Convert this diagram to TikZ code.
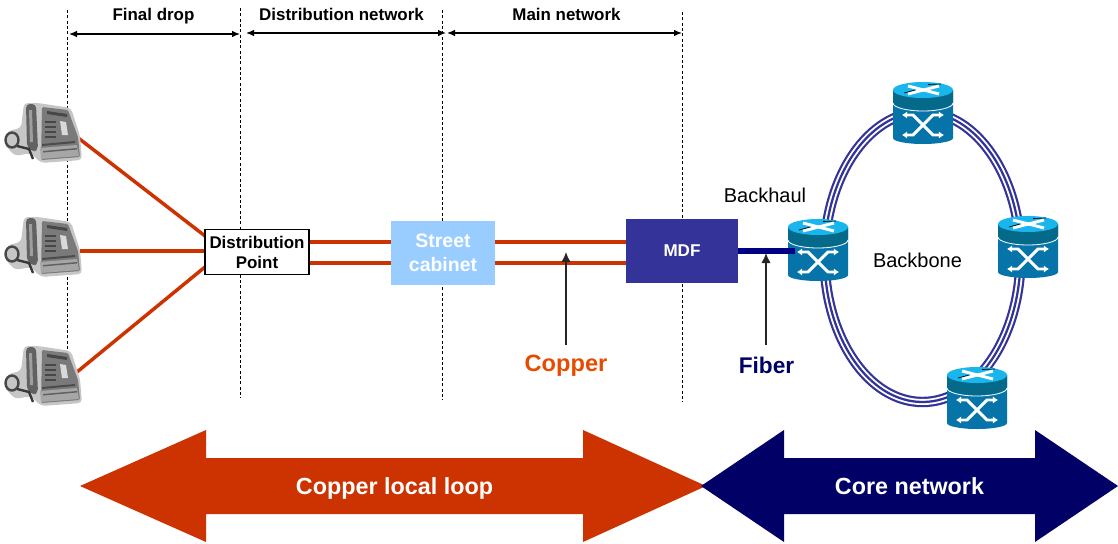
\documentclass[tikz,border=0pt]{standalone}
\usepackage{fontspec}
\setmainfont{Liberation Sans}
\usetikzlibrary{arrows.meta,backgrounds,calc}
\definecolor{copper}{HTML}{CC3300}
\definecolor{coptxt}{HTML}{E64B00}
\definecolor{navyc}{HTML}{000066}
\definecolor{fibc}{HTML}{000085}
\definecolor{mdfc}{HTML}{333399}
\definecolor{cabc}{HTML}{99CCFF}
\definecolor{rbody}{HTML}{0674A8}
\definecolor{rband}{HTML}{056A8A}
\definecolor{rtop}{HTML}{19B6EE}
\tikzset{
 x=0.75pt,y=-0.75pt,
 vline/.style={dash pattern=on 2.2pt off 1.8pt,line width=0.65pt,black},
 span/.style={{Latex[length=6pt,width=5pt]}-{Latex[length=6pt,width=5pt]},line width=0.95pt},
 ptr/.style={-{Latex[length=7.5pt,width=7pt]},line width=1pt,black!85},
 cu/.style={copper,line width=2.6pt},
 hdr/.style={anchor=base,font=\fontsize{12.7}{15}\selectfont\bfseries},
 ws/.style={white,line width=2.2pt,line join=miter,{Latex[length=3.8pt,width=5.5pt]}-{Latex[length=3.8pt,width=5.5pt]}},
 bw/.style={anchor=base,font=\fontsize{17.5}{20}\selectfont\bfseries,white},
 pics/router/.style={code={
  \fill[rbody] (-30,-24) -- (-30,24) arc[x radius=30,y radius=6,start angle=180,end angle=0] -- (30,-24) -- cycle;
  \fill[rband] (-30,-24) -- (-30,-12) arc[x radius=30,y radius=8,start angle=180,end angle=0] -- (30,-24) -- cycle;
  \draw[white,line width=.6pt] (-30,-11) arc[x radius=30,y radius=8,start angle=180,end angle=0];
  \fill[rtop] (0,-24) ellipse[x radius=30,y radius=8];
  \draw[white,line width=2.2pt] (-15,-28) -- (16,-20);
  \draw[white,line width=2.2pt] (-15,-20) -- (16,-28);
  \draw[black,line width=.5pt] (-19,-21) -- (-8,-24) (5,-29.5) -- (18,-30);
  \draw[ws] (-21,1) -- (-10,1) -- (10,21) -- (21,21);
  \draw[ws] (-21,21) -- (-10,21) -- (10,1) -- (21,1);
 }},
 pics/phone/.style={code={
  % soft halo
  \fill[gray!45,rounded corners=3pt] (-17,-29) -- (-3,-29) -- (30,-24) -- (39,4) -- (41,28) -- (0,31) -- (-10,21) -- (-26,24) -- (-37,12) -- (-33,-1) -- (-20,-4) -- cycle;
  % base
  \fill[black!52,rounded corners=1pt] (1,-25) -- (27,-22) -- (37,5) -- (39,25) -- (0,28) -- cycle;
  \fill[black!35] (-1,16) -- (36,13) -- (38,24) -- (0,27) -- cycle;
  % handset
  \fill[black!62,rounded corners=3pt] (-15,-28) -- (-5,-28) -- (-3,18) -- (-8,20) -- (-14,15) -- cycle;
  \fill[black!38] (-12,-22) -- (-9,-22) -- (-8,10) -- (-11,10) -- cycle;
  % cord
  \draw[black!72,line width=1.8pt] (-29,8) circle[x radius=6.5,y radius=7.5];
  \draw[black!78,line width=1.8pt] (-24,14) -- (-12,17) -- (-8,27);
  % display and keys
  \fill[black!72] (6,-21) -- (26,-18) -- (26,-15) -- (6,-18) -- cycle;
  \fill[black!15] (19,-11) -- (25,-10) -- (27,3) -- (21,3) -- cycle;
  \foreach \yy in {-11,-6,-1,4}{\fill[black!72] (4,\yy) rectangle (15,\yy+2);}
  \fill[black!70] (1,12) -- (34,9) -- (34,11) -- (1,14) -- cycle;
  \fill[black!62] (2,19) -- (36,16) -- (36,17.5) -- (2,20.5) -- cycle;
 }}
}
\begin{document}
\begin{tikzpicture}
\useasboundingbox (0,0) rectangle (1118,543);
% vertical guides
\coordinate (v1t) at (67,10); \coordinate (v1b) at (67,400);
\coordinate (v2t) at (240,8); \coordinate (v2b) at (240,398);
\coordinate (v3t) at (442,10); \coordinate (v3b) at (442,400);
\coordinate (v4t) at (682,12); \coordinate (v4b) at (682,402);
\draw[vline] (v1t) -- (v1b);
\draw[vline] (v2t) -- (v2b);
\draw[vline] (v3t) -- (v3b);
\draw[vline] (v4t) -- (v4b);
% headers
\node[hdr] (h1) at (153.5,20) {Final drop};
\node[hdr] (h2) at (341.5,20) {Distribution network};
\node[hdr] (h3) at (566.5,20) {Main network};
\coordinate (s1a) at (69,34); \coordinate (s1b) at (240,34);
\coordinate (s2a) at (246,33); \coordinate (s2b) at (446,33);
\coordinate (s3a) at (447,33); \coordinate (s3b) at (682,33);
\draw[span] (s1a) -- (s1b);
\draw[span] (s2a) -- (s2b);
\draw[span] (s3a) -- (s3b);
% ring
\coordinate (ringc) at (922.5,257);
\draw[mdfc,line width=7.8pt] (ringc) ellipse[x radius=98,y radius=145];
\draw[white,line width=4.5pt] (ringc) ellipse[x radius=98,y radius=145];
\draw[mdfc,line width=1.7pt] (ringc) ellipse[x radius=98,y radius=145];
% nodes
\node[draw=black,fill=white,line width=.8pt,minimum width=78pt,minimum height=34pt,inner sep=0pt,align=center,font=\fontsize{12.7}{15}\selectfont\bfseries] (dp) at (257,252) {Distribution\\Point};
\node[fill=cabc,minimum width=78pt,minimum height=48pt,inner sep=0pt,align=center,text=white,font=\fontsize{14.6}{18}\selectfont\bfseries] (sc) at (443,253) {Street\\cabinet};
\node[fill=mdfc,minimum width=84pt,minimum height=48pt,inner sep=0pt,text=white,font=\fontsize{12.8}{15}\selectfont\bfseries] (mdf) at (682,251) {MDF};
% phones
\pic at (41,132) {phone};
\pic at (41,246) {phone};
\pic at (41,375) {phone};
\coordinate (p1) at (77,137); \coordinate (p2) at (80,251); \coordinate (p3) at (77,372);
\begin{scope}[on background layer]
\draw[cu] (p1) -- ($(dp.west)+(20,-1)$);
\draw[cu] (p2) -- ($(dp.west)+(20,-1)$);
\draw[cu] (p3) -- ($(dp.west)+(20,-1)$);
\end{scope}
\draw[cu] (dp.east |- 0,242) -- (sc.west |- 0,242);
\draw[cu] (dp.east |- 0,263) -- (sc.west |- 0,263);
\draw[cu] (sc.east |- 0,242) -- (mdf.west |- 0,242);
\draw[cu] (sc.east |- 0,263) -- (mdf.west |- 0,263);
% routers
\coordinate (r1) at (923,114);
\coordinate (r2) at (818,251);
\coordinate (r3) at (1028,248);
\coordinate (r4) at (977,399);
\pic at (r1) {router};
\pic at (r2) {router};
\pic at (r3) {router};
\pic at (r4) {router};
\coordinate (bhe) at ($(r2)+(-23,0)$);
\draw[fibc,line width=4pt] (mdf.east |- bhe) -- (bhe);
% labels
\node[anchor=base,font=\fontsize{15}{17}\selectfont] (bh) at (765,202) {Backhaul};
\node[anchor=base,font=\fontsize{15}{17}\selectfont] (bb) at (917.5,267) {Backbone};
\node[anchor=base,font=\fontsize{17.7}{20}\selectfont\bfseries,text=coptxt] (cu) at (566,371) {Copper};
\node[anchor=base,font=\fontsize{17}{20}\selectfont\bfseries,text=navyc] (fi) at (766.5,373) {Fiber};
\coordinate (cua) at (566,252); \coordinate (fia) at (766,253);
\coordinate (cut) at (566,345); \coordinate (fit) at (766,345);
\draw[ptr] (cut) -- (cua);
\draw[ptr] (fit) -- (fia);
% big arrows
\fill[copper] (80,486) -- (206,430) -- (206,458) -- (583,458) -- (583,430) -- (706,486) -- (583,542) -- (583,514) -- (206,514) -- (206,542) -- cycle;
\fill[navyc] (701,486) -- (784,430) -- (784,458) -- (1035,458) -- (1035,430) -- (1118,486) -- (1035,542) -- (1035,514) -- (784,514) -- (784,542) -- cycle;
\node[bw] (cll) at (394.5,494) {Copper local loop};
\node[bw] (cn) at (909.5,494) {Core network};
\end{tikzpicture}
\end{document}
